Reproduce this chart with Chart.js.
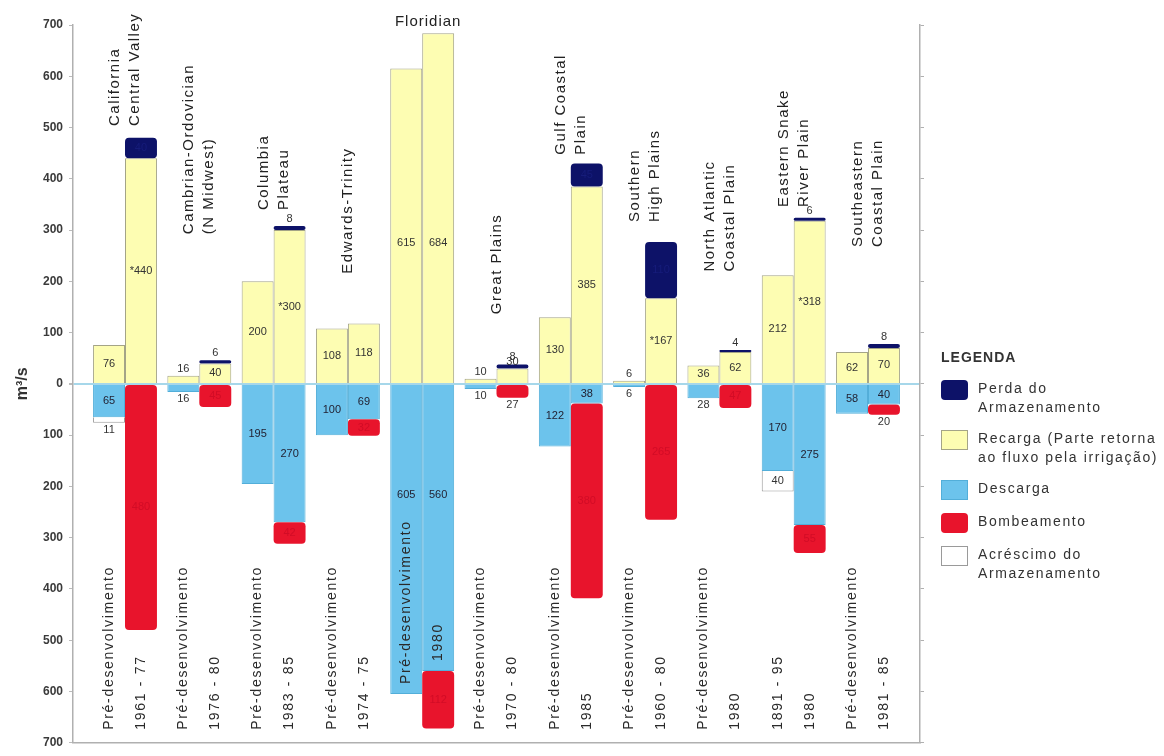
<!DOCTYPE html>
<html><head><meta charset="utf-8">
<script src="https://cdn.jsdelivr.net/npm/chart.js@4/dist/chart.umd.min.js"></script>
<style>
html,body{margin:0;padding:0;background:#fff;}
#wrap{position:relative;width:1164px;height:756px;overflow:hidden;}
#legend{position:absolute;left:941px;top:348px;font-family:'Liberation Sans',Arial,sans-serif;color:#333;font-size:14px;line-height:19px;letter-spacing:1.6px;}
#legend .t{font-weight:bold;letter-spacing:1px;margin-bottom:12px;}
#legend .it{display:flex;align-items:flex-start;margin-bottom:12px;}
#legend .sw{width:27px;height:20px;flex:none;margin-right:10px;margin-top:1px;box-sizing:border-box;}
</style></head><body>
<div id="wrap"><canvas id="c" width="1164" height="756"></canvas><div id="legend"></div></div>
<script>
// ---- data (m³/s) ----
const aquiferos = ['California\nCentral Valley','Cambrian-Ordovician\n(N Midwest)','Columbia\nPlateau','Edwards-Trinity','Floridian','Great Plains','Gulf Coastal\nPlain','Southern\nHigh Plains','North Atlantic\nCoastal Plain','Eastern Snake\nRiver Plain','Southeastern\nCoastal Plain'];
const periodoPre = ['Pré-desenvolvimento','Pré-desenvolvimento','Pré-desenvolvimento','Pré-desenvolvimento','Pré-desenvolvimento','Pré-desenvolvimento','Pré-desenvolvimento','Pré-desenvolvimento','Pré-desenvolvimento','1891 - 95','Pré-desenvolvimento'];
const periodoDev = ['1961 - 77','1976 - 80','1983 - 85','1974 - 75','1980','1970 - 80','1985','1960 - 80','1980','1980','1981 - 85'];
const recargaPre     = [76, 16, 200, 108, 615, 10, 130, 6, 36, 212, 62];
const recargaDev     = [440, 40, 300, 118, 684, 30, 385, 167, 62, 318, 70];
const irrigacaoDev   = [true, false, true, false, false, false, false, true, false, true, false];
const perdaDev       = [40, 6, 8, null, null, 8, 45, 110, 4, 6, 8];
const descargaPre    = [65, 16, 195, 100, 605, 10, 122, 6, 28, 170, 58];
const descargaDev    = [null, null, 270, 69, 560, null, 38, null, null, 275, 40];
const bombeamentoDev = [480, 45, 42, 32, 112, 27, 380, 265, 47, 55, 20];
const acrescimoPre   = [11, null, null, null, null, null, null, null, null, 40, null];
const legendaTitulo = 'LEGENDA';
const legendaItens = ['Perda do\nArmazenamento','Recarga (Parte retorna\nao fluxo pela irrigação)','Descarga','Bombeamento','Acréscimo do\nArmazenamento'];
const eixoY = {min: -700, max: 700, passo: 100, titulo: 'm³/s'};

// ---- layout / style (not data) ----
const tituloBase = [503, 292, 339, 215, 706, 136, 447, 316, 219, 345, 267];
const tituloHorizontal = [false,false,false,false,true,false,false,false,false,false,false];
const COR = {
  perda: {bg:'#0d1268', bd:'#0d1268', lab:'#161c7a', cap: 999},
  recarga: {bg:'#fdfdb2', bd:'#a4a487', lab:'#333', cap: 140},
  descarga: {bg:'#6cc3ec', bd:'#52aed9', lab:'#223', cap: 110},
  bomb: {bg:'#e8142c', bd:'#e8142c', lab:'#d20c26', cap: 999},
  acresc: {bg:'#ffffff', bd:'#9a9a9a', lab:'#333', cap: 999}
};
const FONT = "'Liberation Sans', Arial, sans-serif";

function pts(arr, sign) {
  const out = [];
  arr.forEach((v, i) => { if (v != null) out.push({x: i, y: sign * v}); });
  return out;
}
function ds(kind, stack, arr, sign, extra) {
  const c = COR[kind];
  const round = (kind === 'perda' || kind === 'bomb');
  return Object.assign({
    kind, stack, data: pts(arr, sign),
    backgroundColor: c.bg, borderColor: c.bd,
    borderWidth: round ? 0 : 1,
    borderRadius: round ? 4 : 0,
    borderSkipped: round ? false : 'start',
    labelColor: c.lab, labelCap: c.cap
  }, extra || {});
}
const datasets = [
  ds('recarga', 'pre', recargaPre, 1),
  ds('recarga', 'dev', recargaDev, 1, {mark: irrigacaoDev}),
  ds('perda', 'dev', perdaDev, 1),
  ds('descarga', 'pre', descargaPre, -1),
  ds('descarga', 'dev', descargaDev, -1),
  ds('bomb', 'dev', bombeamentoDev, -1),
  ds('acresc', 'pre', acrescimoPre, -1)
];

function vtext(ctx, text, x, y, font, spacing, color) {
  ctx.save();
  ctx.translate(x, y); ctx.rotate(-Math.PI / 2);
  ctx.font = font; ctx.letterSpacing = spacing + 'px';
  ctx.fillStyle = color; ctx.textAlign = 'left'; ctx.textBaseline = 'middle';
  ctx.fillText(text, 0, 0);
  ctx.restore();
}

const rotulos = {
  id: 'rotulos',
  afterDatasetsDraw(chart) {
    const ctx = chart.ctx;
    ctx.save();
    ctx.font = '11px ' + FONT; ctx.textAlign = 'center'; ctx.textBaseline = 'middle';
    chart.data.datasets.forEach((d, di) => {
      const meta = chart.getDatasetMeta(di);
      meta.data.forEach((el, j) => {
        const raw = d.data[j];
        const v = Math.abs(raw.y);
        const top = Math.min(el.y, el.base), bot = Math.max(el.y, el.base);
        const h = bot - top;
        let txt = String(v);
        if (d.mark && d.mark[raw.x]) txt = '*' + txt;
        let y, col;
        if (h >= 15) {
          const half = Math.min(h / 2, d.labelCap);
          y = raw.y > 0 ? el.base - half : el.base + half;
          col = d.labelColor;
        } else { y = raw.y > 0 ? top - 7 : bot + 7; col = '#333'; }
        ctx.fillStyle = col;
        ctx.fillText(txt, el.x, y);
      });
    });
    ctx.restore();
  },
  afterDraw(chart) {
    const ctx = chart.ctx, area = chart.chartArea, ys = chart.scales.y;
    const mRecPre = chart.getDatasetMeta(0), mRecDev = chart.getDatasetMeta(1);
    const mDesPre = chart.getDatasetMeta(3), mDesDev = chart.getDatasetMeta(4);
    const findEl = (meta, i) => { const k = meta._dataset.data.findIndex(p => p.x === i); return k >= 0 ? meta.data[k] : null; };
    aquiferos.forEach((nome, i) => {
      const ePre = findEl(mRecPre, i), eDev = findEl(mRecDev, i);
      const cx = (ePre.x + eDev.x) / 2;
      const by = ys.getPixelForValue(tituloBase[i]);
      if (tituloHorizontal[i]) {
        ctx.save(); ctx.font = '15px ' + FONT; ctx.letterSpacing = '1px';
        ctx.fillStyle = '#222'; ctx.textAlign = 'center'; ctx.textBaseline = 'middle';
        ctx.fillText(nome, cx + 6, by); ctx.restore();
      } else {
        const linhas = nome.split('\n');
        linhas.forEach((l, k) => {
          const off = linhas.length === 1 ? 0 : (k === 0 ? -10 : 10);
          vtext(ctx, l, cx + off, by, '15px ' + FONT, 1.5, '#222');
        });
      }
      [[ePre, mDesPre, periodoPre[i]], [eDev, mDesDev, periodoDev[i]]].forEach(([el, mD, txt]) => {
        let y0 = area.bottom - 13;
        const bEl = findEl(mD, i);
        if (bEl) { const bb = Math.max(bEl.y, bEl.base); if (bb > y0 - 80) y0 = bb - 10; }
        vtext(ctx, txt, el.x, y0, '14px ' + FONT, 1.7, '#2a2a2a');
      });
    });
  }
};

new Chart(document.getElementById('c'), {
  type: 'bar',
  data: {datasets},
  options: {
    responsive: false, animation: false,
    categoryPercentage: 0.86, barPercentage: 1,
    layout: {padding: {left: 0, right: 244, top: 25, bottom: 7}},
    plugins: {legend: {display: false}, tooltip: {enabled: false}},
    scales: {
      x: {
        type: 'linear', min: -0.7, max: 10.7, stacked: true, offset: false,
        afterBuildTicks: s => { s.ticks = aquiferos.map((_, i) => ({value: i})); },
        ticks: {display: false},
        grid: {display: false, drawTicks: false},
        border: {display: true, color: '#b0b0b0', width: 1.5},
        afterFit: s => { s.height = 0; }
      },
      y: {
        stacked: true, min: eixoY.min, max: eixoY.max,
        ticks: {stepSize: eixoY.passo, callback: v => Math.abs(v), color: '#3a3a3a', padding: 6,
                font: {family: FONT, size: 12, weight: 'bold'}},
        grid: {color: c => c.tick && c.tick.value === 0 ? '#a6d7ea' : 'rgba(0,0,0,0)',
               lineWidth: c => c.tick && c.tick.value === 0 ? 2 : 1,
               tickColor: '#bbbbbb', tickLength: 4},
        border: {color: '#b0b0b0', width: 1.5},
        title: {display: true, text: eixoY.titulo, color: '#333', padding: {top: 13, bottom: 0},
                font: {family: FONT, size: 16, weight: 'bold'}},
        afterFit: s => { s.width = 73; }
      },
      y2: {
        position: 'right', min: eixoY.min, max: eixoY.max,
        ticks: {display: false, stepSize: eixoY.passo},
        grid: {drawOnChartArea: false, tickColor: '#b0b0b0', tickLength: 4},
        border: {color: '#b0b0b0', width: 1.5},
        afterFit: s => { s.width = 0; }
      }
    }
  },
  plugins: [rotulos]
});

// HTML legend
const leg = document.getElementById('legend');
const sw = [COR.perda, COR.recarga, COR.descarga, COR.bomb, COR.acresc];
let html = '<div class="t">' + legendaTitulo + '</div>';
legendaItens.forEach((t, i) => {
  const c = sw[i];
  const rad = (i === 0 || i === 3) ? 'border-radius:4px;' : '';
  const bd = (i === 1 || i === 2 || i === 4) ? 'border:1px solid ' + c.bd + ';' : '';
  html += '<div class="it"><div class="sw" style="background:' + c.bg + ';' + bd + rad + '"></div><div>' + t.replace('\n', '<br>') + '</div></div>';
});
leg.innerHTML = html;
</script>
</body></html>
